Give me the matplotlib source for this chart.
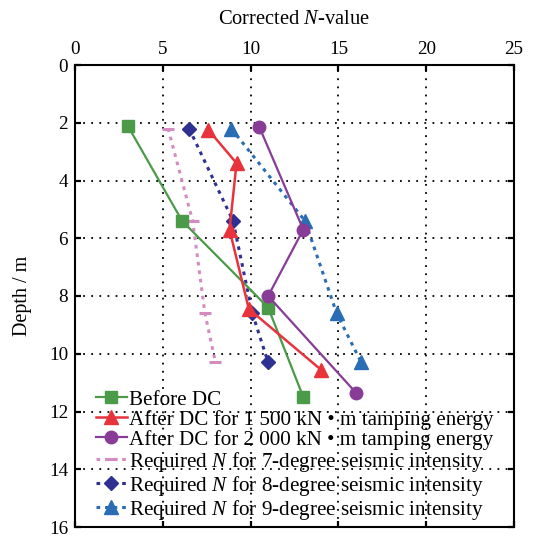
import numpy as np
import matplotlib
matplotlib.use('Agg')
from matplotlib import pyplot as plt

plt.rcParams['font.family'] = ['Liberation Serif', 'DejaVu Serif']
plt.rcParams['mathtext.fontset'] = 'custom'
plt.rcParams['mathtext.rm'] = 'Liberation Serif'
plt.rcParams['mathtext.it'] = 'Liberation Serif:italic'

# data (N-value, depth in m)
before_n = [3.0, 6.1, 11.0, 13.0]
before_d = [2.1, 5.4, 8.4, 11.5]

e1500_n = [7.6, 9.2, 8.8, 9.9, 14.0]
e1500_d = [2.25, 3.4, 5.7, 8.45, 10.55]

e2000_n = [10.5, 13.0, 11.0, 16.0]
e2000_d = [2.15, 5.7, 8.0, 11.35]

req7_n = [5.3, 6.7, 7.4, 8.0]
req7_d = [2.2, 5.4, 8.6, 10.3]

req8_n = [6.5, 9.0, 10.1, 11.0]
req8_d = [2.2, 5.4, 8.6, 10.3]

req9_n = [8.9, 13.1, 14.9, 16.3]
req9_d = [2.2, 5.4, 8.6, 10.3]

labels = [
    'Before DC',
    'After DC for 1 500 kN \u2022 m tamping energy',
    'After DC for 2 000 kN \u2022 m tamping energy',
    'Required $\\it{N}$ for 7-degree seismic intensity',
    'Required $\\it{N}$ for 8-degree seismic intensity',
    'Required $\\it{N}$ for 9-degree seismic intensity',
]

fig = plt.figure(figsize=(5.36, 5.36), dpi=100)
ax = fig.add_axes([75/536, 1-527/536, 439/536, 462/536])

dots = (0, (1.2, 1.6))
ax.plot(before_n, before_d, color='#4a9a48', lw=1.6, marker='s', ms=8.5, label=labels[0], zorder=4)
ax.plot(e1500_n, e1500_d, color='#e8333c', lw=1.8, marker='^', ms=10, label=labels[1], zorder=4)
ax.plot(e2000_n, e2000_d, color='#883c97', lw=1.6, marker='o', ms=9, label=labels[2], zorder=4)
ax.plot(req7_n, req7_d, color='#d48bc0', lw=2.2, ls=dots, marker='_', ms=9, mew=2.2, label=labels[3], zorder=3)
ax.plot(req8_n, req8_d, color='#2e3192', lw=2.2, ls=dots, marker='D', ms=7, label=labels[4], zorder=3)
ax.plot(req9_n, req9_d, color='#2a6db5', lw=2.2, ls=dots, marker='^', ms=10, label=labels[5], zorder=3)

ax.set_xlim(0, 25)
ax.set_ylim(16, 0)
ax.set_xticks(np.arange(0, 26, 5))
ax.set_yticks(np.arange(0, 17, 2))
ax.xaxis.set_ticks_position('both')
ax.yaxis.set_ticks_position('both')
ax.xaxis.set_label_position('top')
ax.tick_params(axis='both', direction='in', length=4, width=1.6, labelsize=13.8,
               labeltop=True, labelbottom=False, pad=5)
ax.grid(True, color='black', ls=(0, (1, 3.5)), lw=1.3)
for s in ax.spines.values():
    s.set_linewidth(1.5)

ax.set_xlabel('Corrected $\\it{N}$-value', fontsize=14.8, labelpad=12)
ax.set_ylabel('Depth / m', fontsize=14.5, labelpad=12)

ax.legend(loc='upper left', bbox_to_anchor=(96/536, 1-390/536), bbox_transform=fig.transFigure,
          frameon=False, fontsize=15.2, borderpad=0, borderaxespad=0, handlelength=1.45,
          handletextpad=0.1, labelspacing=0.0)

fig.savefig('out.png', dpi=100)
